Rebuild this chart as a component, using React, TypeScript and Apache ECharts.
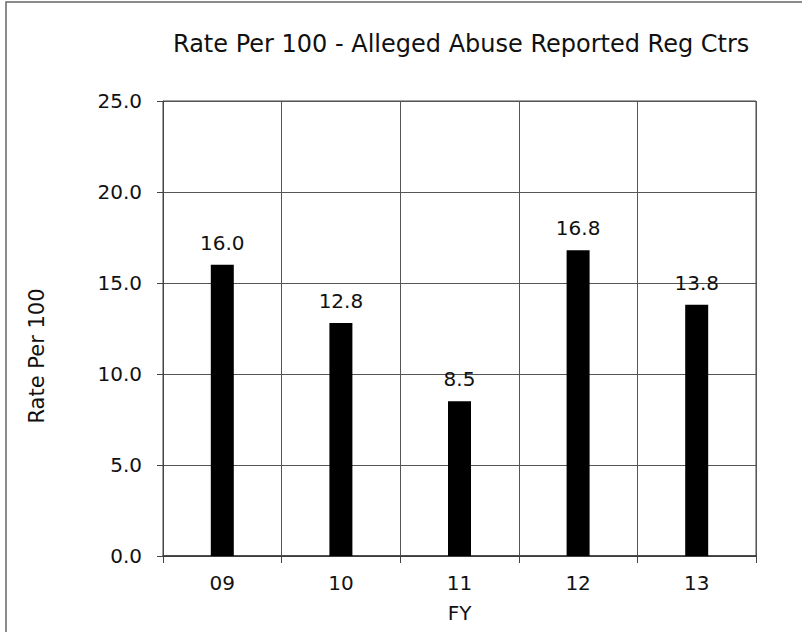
import React, { useEffect, useRef } from "react";
import * as echarts from "echarts";

const categories = ["09", "10", "11", "12", "13"];
const values = [16.0, 12.8, 8.5, 16.8, 13.8];
const yTicks = { min: 0, max: 25, interval: 5 };
const titleText = "Rate Per 100 - Alleged Abuse Reported Reg Ctrs";
const yName = "Rate Per 100";
const xName = "FY";

const FONT = "DejaVu Sans, Liberation Sans, Arial, sans-serif";

export default function App() {
  const ref = useRef<HTMLDivElement>(null);
  useEffect(() => {
    const chart = echarts.init(ref.current!, undefined, { renderer: "svg" });
    chart.setOption({
      animation: false,
      backgroundColor: "#ffffff",
      textStyle: { fontFamily: FONT, color: "#111" },
      title: {
        text: titleText,
        left: 173,
        top: 32,
        padding: 0,
        textStyle: { fontSize: 24, fontWeight: "normal", color: "#111", fontFamily: FONT },
      },
      graphic: [
        {
          type: "rect",
          shape: { x: 6, y: 2, width: 820, height: 660 },
          style: { fill: "none", stroke: "#666", lineWidth: 1.5 },
          silent: true,
        },
        {
          type: "text",
          x: 37,
          y: 356,
          rotation: Math.PI / 2,
          silent: true,
          style: {
            text: yName,
            fontSize: 21,
            fontFamily: FONT,
            fill: "#111",
            align: "center",
            verticalAlign: "middle",
          },
        },
      ],
      grid: {
        left: 163,
        top: 101,
        width: 593,
        height: 455,
        containLabel: false,
        show: true,
        borderColor: "#444",
        borderWidth: 1,
      },
      xAxis: {
        type: "category",
        data: categories,
        boundaryGap: true,
        name: xName,
        nameLocation: "middle",
        nameGap: 47,
        nameTextStyle: { fontSize: 20, color: "#111", fontFamily: FONT },
        axisLine: { lineStyle: { color: "#333", width: 1.5 } },
        axisTick: { show: true, length: 7, alignWithLabel: false, lineStyle: { color: "#444" } },
        axisLabel: { fontSize: 20, color: "#111", margin: 17, fontFamily: FONT },
        splitLine: { show: true, interval: 0, lineStyle: { color: "#555", width: 1 } },
      },
      yAxis: {
        type: "value",
        min: yTicks.min,
        max: yTicks.max,
        interval: yTicks.interval,
        axisLine: { show: true, lineStyle: { color: "#444", width: 1 } },
        axisTick: { show: true, length: 6, lineStyle: { color: "#444" } },
        axisLabel: {
          fontSize: 20,
          color: "#111",
          margin: 21,
          fontFamily: FONT,
          formatter: (v: number) => v.toFixed(1),
        },
        splitLine: { show: true, lineStyle: { color: "#555", width: 1 } },
      },
      series: [
        {
          type: "bar",
          data: values,
          barWidth: 23,
          itemStyle: { color: "#000" },
          label: {
            show: true,
            position: "top",
            distance: 12,
            fontSize: 20,
            color: "#111",
            fontFamily: FONT,
            formatter: (p: any) => Number(p.value).toFixed(1),
          },
        },
      ],
    });
    return () => chart.dispose();
  }, []);
  return (
    <div
      ref={ref}
      style={{ position: "fixed", left: 0, top: 0, width: 802, height: 632, background: "#fff" }}
    />
  );
}
